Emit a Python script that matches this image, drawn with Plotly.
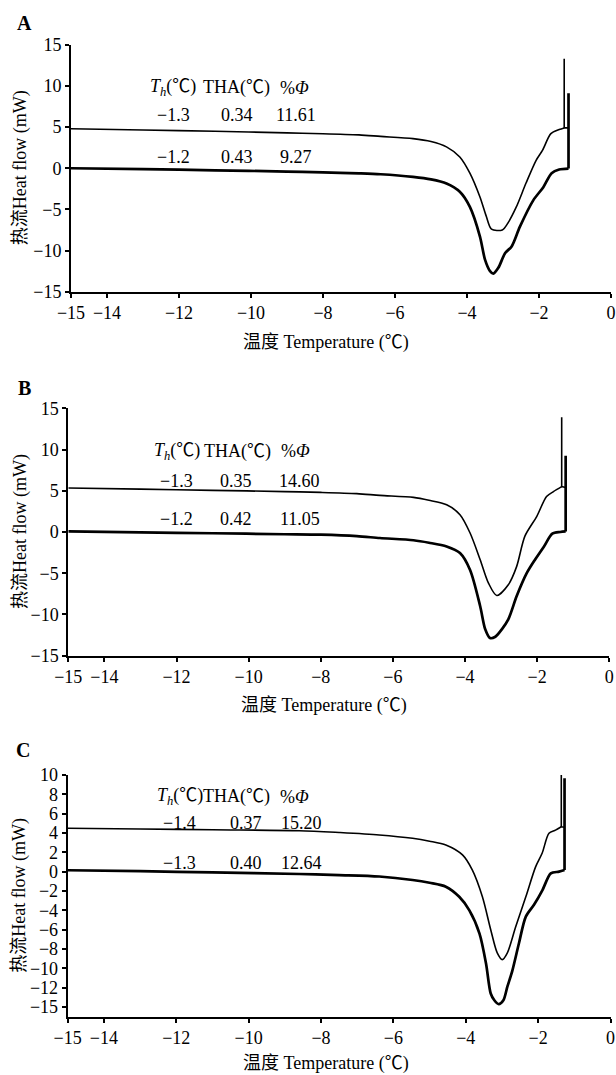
import plotly.graph_objects as go

# ---------------- data ----------------
# Panel A
A_UP_T = [-15, -13, -11, -9, -8, -7, -6.4, -5.5, -5.0, -4.57, -4.2, -3.92, -3.64, -3.46, -3.32,
          -3.02, -2.87, -2.63, -2.36, -2.08, -1.9, -1.67, -1.44, -1.3, -1.3, -1.3, -1.18]
A_UP_HF = [4.8, 4.65, 4.5, 4.3, 4.2, 4.05, 3.87, 3.6, 3.25, 2.6, 1.37, -0.6, -3.5, -5.9, -7.4,
           -7.5, -6.7, -4.7, -1.8, 0.97, 2.2, 4.2, 4.7, 4.9, 13.3, 4.9, 4.9]
A_LO_T = [-15, -13, -11, -9, -8, -7, -6.4, -5.5, -5.0, -4.57, -4.2, -3.92, -3.64, -3.5, -3.36,
          -3.27, -3.13, -2.94, -2.76, -2.53, -2.16, -1.88, -1.65, -1.44, -1.18, -1.18, -1.18]
A_LO_HF = [0.0, -0.1, -0.25, -0.4, -0.5, -0.62, -0.73, -1.05, -1.35, -1.85, -2.86, -4.7, -8.3, -11.1, -12.5,
           -12.8, -12.1, -10.3, -9.5, -7.1, -3.9, -2.3, -0.6, -0.15, -0.04, 9.1, 5.0]
A_TH = ["−1.3", "−1.2"]
A_THA = ["0.34", "0.43"]
A_PHI = ["11.61", "9.27"]

# Panel B
B_UP_T = [-15, -13, -11, -9, -8, -7, -6.36, -5.43, -5.0, -4.51, -4.14, -3.86, -3.58, -3.35, -3.12,
          -2.8, -2.57, -2.34, -2.01, -1.74, -1.55, -1.32, -1.32, -1.32, -1.21]
B_UP_HF = [5.33, 5.2, 5.05, 4.9, 4.8, 4.65, 4.44, 4.2, 3.85, 3.3, 2.1, -0.12, -3.36, -6.2, -7.7,
           -6.4, -4.2, -0.5, 1.9, 4.3, 4.9, 5.5, 13.9, 5.5, 5.4]
B_LO_T = [-15, -13, -11, -9, -8, -7, -6.36, -5.43, -5.0, -4.51, -4.14, -3.86, -3.58, -3.44, -3.31,
          -3.16, -2.98, -2.8, -2.57, -2.29, -2.06, -1.81, -1.58, -1.36, -1.21, -1.21, -1.21]
B_LO_HF = [0.07, -0.05, -0.15, -0.27, -0.33, -0.5, -0.73, -1.0, -1.3, -1.75, -2.55, -4.6, -9.0, -11.8, -12.85,
           -12.7, -11.8, -10.6, -7.8, -5.0, -3.36, -1.75, -0.2, 0.0, 0.07, 9.25, 5.4]
B_TH = ["−1.3", "−1.2"]
B_THA = ["0.35", "0.42"]
B_PHI = ["14.60", "11.05"]

# Panel C
C_UP_T = [-15, -13, -11, -8.6, -7.5, -6.39, -5.47, -5.0, -4.55, -4.09, -3.82, -3.54, -3.31, -3.13,
          -2.99, -2.85, -2.62, -2.34, -2.07, -1.89, -1.7, -1.52, -1.36, -1.36, -1.36, -1.27]
C_UP_HF = [4.49, 4.42, 4.33, 4.24, 4.05, 3.8, 3.45, 3.15, 2.76, 1.73, 0.18, -2.6, -6.0, -8.4,
           -9.1, -8.4, -5.7, -2.6, 0.5, 1.9, 3.97, 4.3, 4.65, 10.07, 4.65, 4.6]
C_LO_T = [-15, -13, -11, -8.6, -7.5, -6.39, -5.47, -5.0, -4.55, -4.18, -3.9, -3.62, -3.44, -3.31,
          -3.21, -3.09, -2.96, -2.85, -2.71, -2.53, -2.34, -2.11, -1.88, -1.65, -1.42, -1.27, -1.27, -1.27]
C_LO_HF = [0.15, 0.05, -0.08, -0.24, -0.35, -0.5, -0.86, -1.15, -1.55, -2.6, -4.0, -6.4, -9.5, -12.6,
           -13.3, -13.7, -13.3, -11.9, -10.2, -7.4, -4.65, -3.4, -1.9, -0.17, 0.0, 0.17, 9.66, 4.6]
C_TH = ["−1.4", "−1.3"]
C_THA = ["0.37", "0.40"]
C_PHI = ["15.20", "12.64"]

# axis ticks
X_TICKS = [-15, -14, -12, -10, -8, -6, -4, -2, 0]
AB_Y_TICKS = [-15, -10, -5, 0, 5, 10, 15]
C_Y_TICKVALS = [-14, -12, -10, -8, -6, -4, -2, 0, 2, 4, 6, 8, 10]
C_Y_TICKTEXT = ["−15", "−12", "−10", "−8", "−6", "−4", "−2", "0", "2", "4", "6", "8", "10"]

HEADERS = ["<i>T</i><sub><i>h</i></sub>(℃)", "THA(℃)", "%<i>Φ</i>"]
X_TITLE = "温度 Temperature (℃)"
Y_TITLE = "热流Heat flow (mW)"

# ---------------- figure ----------------
W, H = 616, 1075
FONT = "'Liberation Serif', 'Noto Sans CJK SC', serif"
FS = 18

fig = go.Figure()

panels = [
    dict(label="A", sfx="", up=(A_UP_T, A_UP_HF), lo=(A_LO_T, A_LO_HF), tab=(A_TH, A_THA, A_PHI),
         xpx=(71, 611), ypx=(44.8, 291.7), yr=[-15, 15], lab=(24, 23), xt=(326, 342),
         hx=[-12.16, -10.41, -8.79], vx=[-12.14, -10.39, -8.76], hy=9.76, ry=[6.48, 1.37]),
    dict(label="B", sfx="2", up=(B_UP_T, B_UP_HF), lo=(B_LO_T, B_LO_HF), tab=(B_TH, B_THA, B_PHI),
         xpx=(68.3, 609.3), ypx=(408.3, 655.7), yr=[-15, 15], lab=(24, 388), xt=(324, 705),
         hx=[-12.0, -10.3, -8.7], vx=[-11.99, -10.35, -8.58], hy=9.77, ry=[6.22, 1.61]),
    dict(label="C", sfx="3", up=(C_UP_T, C_UP_HF), lo=(C_LO_T, C_LO_HF), tab=(C_TH, C_THA, C_PHI),
         xpx=(67.7, 610.5), ypx=(775, 1016.7), yr=[-15, 10], lab=(23, 750), xt=(326, 1063),
         hx=[-11.9, -10.33, -8.73], vx=[-11.9, -10.07, -8.54], hy=7.76, ry=[5.04, 0.9]),
]

axis_common = dict(showline=True, linecolor="black", linewidth=2, ticks="outside", ticklen=4,
                   tickwidth=1.5, tickcolor="black", showgrid=False, zeroline=False, automargin=False,
                   tickfont=dict(family=FONT, size=FS, color="black"))


def add_curve(xs, ys, xa, ya, width):
    # smooth body up to the melting spike, then the spike drawn straight
    k = next(i for i in range(len(xs) - 1) if xs[i + 1] == xs[i])
    fig.add_trace(go.Scatter(x=xs[:k + 1], y=ys[:k + 1], mode="lines", xaxis=xa, yaxis=ya,
                             line=dict(color="black", width=width, shape="spline", smoothing=0.8),
                             showlegend=False, hoverinfo="skip"))
    fig.add_trace(go.Scatter(x=xs[k:], y=ys[k:], mode="lines", xaxis=xa, yaxis=ya,
                             line=dict(color="black", width=width), showlegend=False, hoverinfo="skip"))


annotations = []
for p in panels:
    xa = "x" + p["sfx"]
    ya = "y" + p["sfx"]
    add_curve(p["up"][0], p["up"][1], xa, ya, 1.6)
    add_curve(p["lo"][0], p["lo"][1], xa, ya, 2.7)
    xd = [p["xpx"][0] / W, p["xpx"][1] / W]
    yd = [1 - p["ypx"][1] / H, 1 - p["ypx"][0] / H]
    fig.layout["xaxis" + p["sfx"]] = dict(domain=xd, anchor=ya, range=[-15, 0], tickvals=X_TICKS,
                                          **axis_common)
    if p["label"] == "C":
        yticks = dict(tickvals=C_Y_TICKVALS, ticktext=C_Y_TICKTEXT)
    else:
        yticks = dict(tickvals=AB_Y_TICKS)
    fig.layout["yaxis" + p["sfx"]] = dict(domain=yd, anchor=xa, range=p["yr"], **yticks, **axis_common)

    # axis titles
    annotations.append(dict(text=X_TITLE, x=p["xt"][0] / W, y=1 - p["xt"][1] / H, xref="paper", yref="paper",
                            showarrow=False, xanchor="center", yanchor="middle",
                            font=dict(family=FONT, size=FS, color="black")))
    annotations.append(dict(text=Y_TITLE, x=20 / W, y=yd[0] + (yd[1] - yd[0]) * 0.5, xref="paper", yref="paper",
                            showarrow=False, xanchor="center", yanchor="middle", textangle=-90,
                            font=dict(family=FONT, size=FS, color="black")))
    # panel label
    annotations.append(dict(text="<b>%s</b>" % p["label"], x=p["lab"][0] / W, y=1 - p["lab"][1] / H,
                            xref="paper", yref="paper", showarrow=False, xanchor="center", yanchor="middle",
                            font=dict(family=FONT, size=20, color="black")))
    # table header
    for hx, ht in zip(p["hx"], HEADERS):
        annotations.append(dict(text=ht, x=hx, y=p["hy"], xref=xa, yref=ya, showarrow=False,
                                xanchor="center", yanchor="middle",
                                font=dict(family=FONT, size=FS, color="black")))
    for ri, ry in enumerate(p["ry"]):
        for vx, col in zip(p["vx"], p["tab"]):
            annotations.append(dict(text=col[ri], x=vx, y=ry, xref=xa, yref=ya, showarrow=False,
                                    xanchor="center", yanchor="middle",
                                    font=dict(family=FONT, size=FS, color="black")))

fig.update_layout(width=W, height=H, margin=dict(l=0, r=0, t=0, b=0, pad=0, autoexpand=False),
                  paper_bgcolor="white", plot_bgcolor="white", annotations=annotations,
                  font=dict(family=FONT, color="black"), showlegend=False)

fig.write_html("out.html", config={"displayModeBar": False},
               post_script="document.body.style.margin='0px';")
